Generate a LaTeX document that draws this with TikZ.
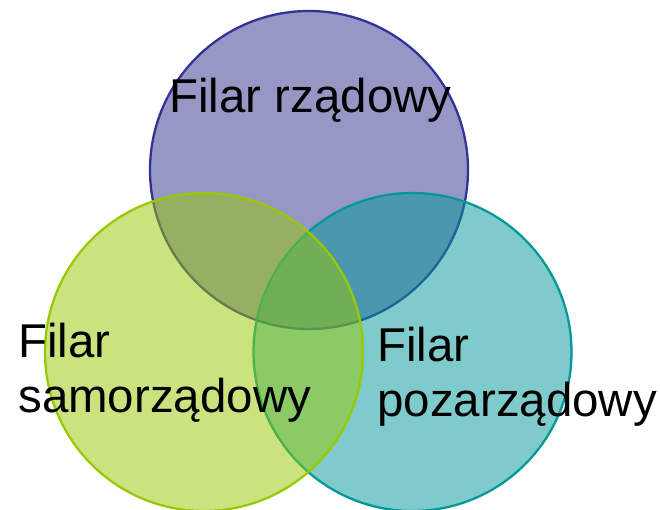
\documentclass[tikz,border=0pt]{standalone}
\usepackage{fontspec}
\setmainfont{Liberation Sans}
\definecolor{fioletowy}{RGB}{50,50,150}
\definecolor{zielony}{RGB}{152,200,0}
\definecolor{morski}{RGB}{0,152,152}
\tikzset{
  kolo/.style={line width=1.3pt,fill opacity=0.5},
  etykieta/.style={inner sep=0pt,align=left,font=\fontsize{27}{31.7}\selectfont}
}
\begin{document}
\begin{tikzpicture}
\useasboundingbox (0,0) rectangle (13.2,10.2);
\pgfmathsetmacro{\rayon}{3.18}
\pgfmathsetmacro{\yhaut}{6.8}
\pgfmathsetmacro{\ybas}{3.16}
  \draw[kolo,draw=fioletowy,fill=fioletowy!95!black] (6.18,\yhaut) circle (\rayon);
  \draw[kolo,draw=morski,fill=morski] (8.25,\ybas) circle (\rayon);
  \draw[kolo,draw=zielony,fill=zielony] (4.08,\ybas) circle (\rayon);
  \node[etykieta,anchor=base west] (rzad) at (3.38,7.94) {Filar rządowy};
  \node[etykieta,anchor=base west] (samorzad) at (0.36,1.94) {Filar\\samorządowy};
  \node[etykieta,anchor=base west] (pozarzad) at (7.54,1.86) {Filar\\pozarządowy};
\end{tikzpicture}
\end{document}
